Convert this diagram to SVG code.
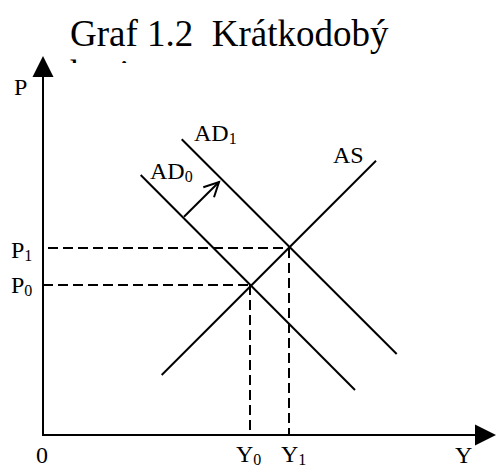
<svg xmlns="http://www.w3.org/2000/svg" width="496" height="467" viewBox="0 0 496 467">
<style>
text{font-family:"Liberation Serif","Times New Roman",serif;fill:#000}
.lbl{font-size:24px}
.sub{font-size:16px}
.ln{stroke:#000;stroke-width:2;fill:none}
.ds{stroke:#000;stroke-width:2;fill:none;stroke-dasharray:10 5}
</style>
<defs>
<clipPath id="tc"><rect x="0" y="0" width="496" height="63"/></clipPath>
</defs>
<g id="title">
<text x="70" y="45.5" font-size="37" xml:space="preserve">Graf 1.2  Krátkodobý</text>
<text x="70" y="86" font-size="37" clip-path="url(#tc)">horizont</text>
</g>
<g id="axes">
<line class="ln" x1="43" y1="435" x2="43" y2="74"/>
<polygon points="43,56 32.5,77 53.5,77" fill="#000"/>
<line class="ln" x1="42" y1="435" x2="478" y2="435"/>
<polygon points="496,435 475,424.5 475,445.5" fill="#000"/>
<text class="lbl" x="14" y="95">P</text>
<text class="lbl" x="455" y="463">Y</text>
<text class="lbl" x="36" y="463">0</text>
</g>
<g id="connectors">
<line class="ds" x1="48" y1="248" x2="289" y2="248"/>
<line class="ds" x1="43" y1="285" x2="250" y2="285"/>
<line class="ds" x1="250" y1="285" x2="250" y2="435"/>
<line class="ds" x1="289" y1="248" x2="289" y2="435"/>
</g>
<g id="AD0">
<line class="ln" x1="140.7" y1="175" x2="355" y2="390"/>
<text class="lbl" x="150" y="179">AD<tspan class="sub" dy="3">0</tspan></text>
</g>
<g id="AD1">
<line class="ln" x1="181.7" y1="139.3" x2="396.7" y2="354"/>
<text class="lbl" x="194" y="141">AD<tspan class="sub" dy="3">1</tspan></text>
</g>
<g id="AS">
<line class="ln" x1="161.7" y1="375" x2="376" y2="160.7"/>
<text class="lbl" x="333" y="163">AS</text>
</g>
<g id="shift">
<line class="ln" x1="184" y1="216.7" x2="219" y2="182"/>
<polyline class="ln" points="203.3,187.3 219,182 214,197.3"/>
</g>
<g id="P1"><text class="lbl" x="11" y="258">P<tspan class="sub" dy="3">1</tspan></text></g>
<g id="P0"><text class="lbl" x="11" y="293">P<tspan class="sub" dy="3">0</tspan></text></g>
<g id="Y0"><text class="lbl" x="236" y="462">Y<tspan class="sub" dy="3">0</tspan></text></g>
<g id="Y1"><text class="lbl" x="281" y="462">Y<tspan class="sub" dy="3">1</tspan></text></g>
</svg>
